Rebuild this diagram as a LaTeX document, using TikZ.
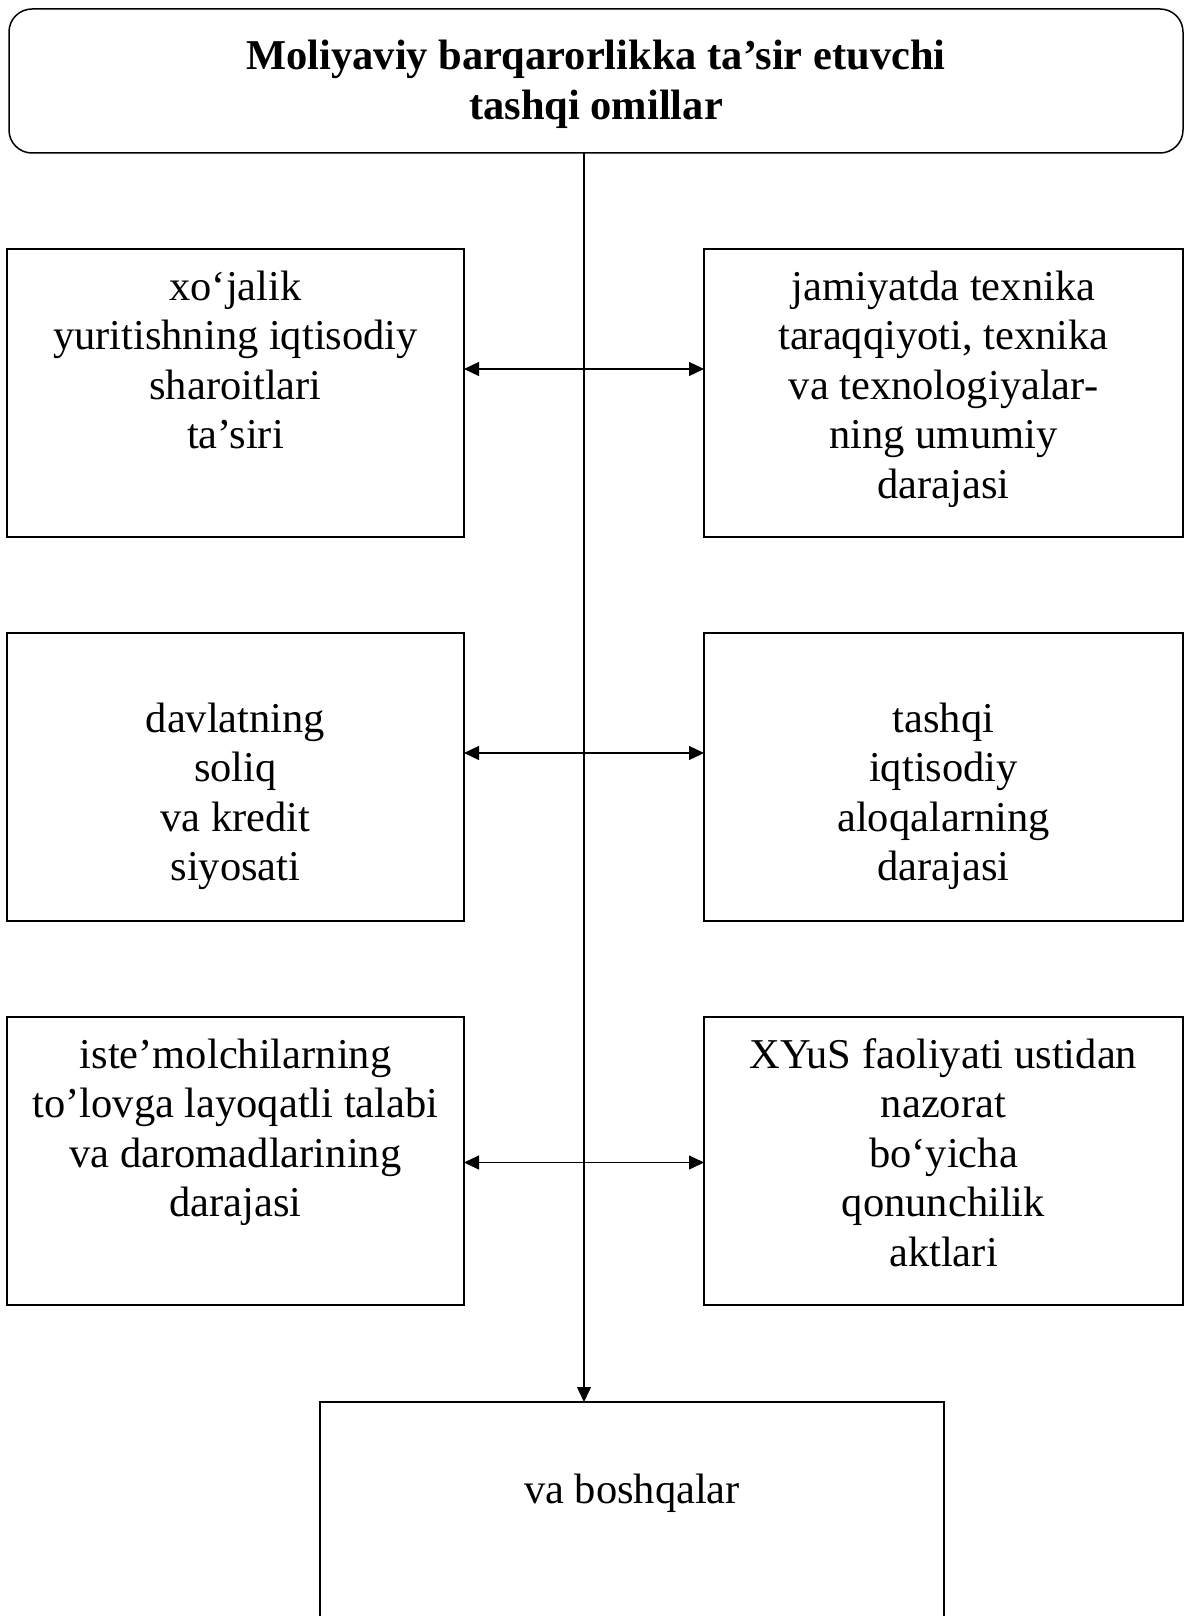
\documentclass[tikz,border=0pt]{standalone}
\usepackage{fontspec}
\setmainfont{Liberation Serif}
\usepackage{tikz}
\usetikzlibrary{arrows.meta, positioning}

% box content: height, width, first baseline, text
\newcommand{\boxtext}[4]{\parbox[c][#1][t]{#2}{\centering\rule{0pt}{#3}#4}}

\begin{document}
\begin{tikzpicture}[
x=1pt, y=-1pt,
node distance=96pt and 240pt,
every node/.style={font=\fontsize{42.5}{49.5}\selectfont, inner sep=0pt, outer sep=0pt},
factor/.style={draw, line width=1.5pt},
heading/.style={factor, rounded corners=23pt},
arrow/.style={-{Triangle[length=15pt,width=14pt]}, line width=1.3pt},
twoway/.style={{Triangle[length=15pt,width=14pt]}-{Triangle[length=15pt,width=14pt]}, line width=1.3pt}
]
\useasboundingbox (0,0) rectangle (1185,1616);
\clip (0,0) rectangle (1185,1616);

\node[heading] (title) at (596,81) {\boxtext{144pt}{1174pt}{61pt}{\bfseries Moliyaviy barqarorlikka ta’sir etuvchi\\ tashqi omillar}};

% left column
\node[factor] (l1) at (235.5,393) {\boxtext{288pt}{457pt}{51pt}{xo‘jalik\\ yuritishning iqtisodiy\\ sharoitlari\\ ta’siri}};
\node[factor] (l2) [below=of l1] {\boxtext{288pt}{457pt}{99pt}{davlatning\\ soliq\\ va kredit\\ siyosati}};
\node[factor] (l3) [below=of l2] {\boxtext{288pt}{457pt}{51pt}{iste’molchilarning\\ to’lovga layoqatli talabi\\ va daromadlarining\\ darajasi}};

% right column
\node[factor] (r1) [right=of l1] {\boxtext{288pt}{479pt}{51pt}{jamiyatda texnika\\ taraqqiyoti, texnika\\ va texnologiyalar-\\ ning umumiy\\ darajasi}};
\node[factor] (r2) [right=of l2] {\boxtext{288pt}{479pt}{99pt}{tashqi\\ iqtisodiy\\ aloqalarning\\ darajasi}};
\node[factor] (r3) [right=of l3] {\boxtext{288pt}{479pt}{51pt}{XYuS faoliyati ustidan\\ nazorat\\ bo‘yicha\\ qonunchilik\\ aktlari}};

\node[factor] (etc) at (632,1552) {\boxtext{300pt}{624pt}{101pt}{va boshqalar}};

\coordinate (spine) at (584,0);
\draw[arrow] (title.south -| spine) -- (etc.north -| spine);

\draw[twoway] ([yshift=24pt]l1.east) -- ([yshift=24pt]r1.west);
\draw[twoway] ([yshift=24pt]l2.east) -- ([yshift=24pt]r2.west);
\draw[twoway] ([yshift=-1.5pt]l3.east) -- ([yshift=-1.5pt]r3.west);

\end{tikzpicture}
\end{document}
